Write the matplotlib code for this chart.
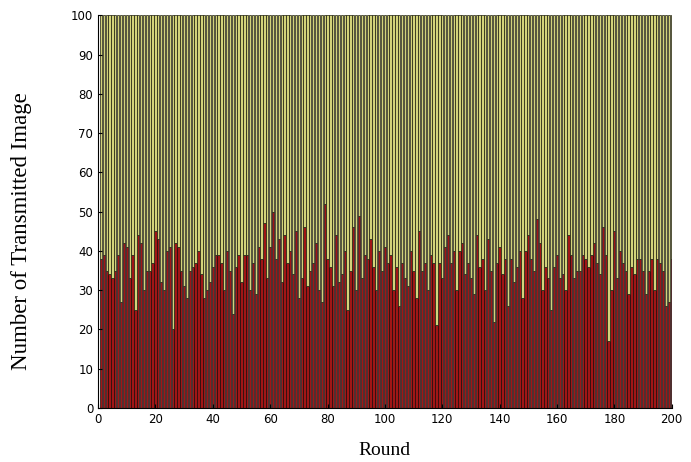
import numpy as np
import matplotlib.pyplot as plt

# red part of each stacked bar (the yellow part fills up to 100)
red = [38, 39, 35, 34, 33, 35, 39, 27, 42, 41, 33, 39, 25, 44, 42, 30, 35, 35, 37, 45,
       43, 32, 30, 40, 41, 20, 42, 41, 35, 31, 28, 35, 36, 37, 40, 34, 28, 30, 32, 36,
       39, 39, 37, 30, 40, 35, 24, 36, 39, 32, 39, 39, 30, 37, 29, 41, 38, 47, 33, 41,
       50, 38, 43, 32, 44, 37, 40, 34, 45, 28, 33, 46, 31, 35, 37, 42, 30, 27, 52, 38,
       36, 31, 44, 32, 34, 40, 25, 35, 46, 30, 49, 33, 39, 38, 43, 36, 30, 40, 35, 41,
       37, 39, 30, 36, 26, 37, 33, 31, 40, 35, 28, 45, 35, 37, 30, 39, 37, 21, 37, 33,
       41, 44, 37, 40, 30, 40, 42, 34, 37, 33, 29, 44, 36, 38, 30, 43, 35, 22, 37, 41,
       34, 38, 26, 38, 32, 36, 40, 28, 40, 44, 38, 35, 48, 42, 30, 36, 33, 25, 36, 39,
       33, 34, 30, 44, 39, 33, 35, 35, 39, 38, 36, 39, 42, 37, 34, 46, 39, 17, 30, 45,
       33, 40, 37, 35, 29, 36, 34, 38, 38, 35, 29, 35, 38, 30, 38, 37, 35, 26, 27, 38]
rounds = np.arange(1, len(red) + 1)
yellow = [100 - r for r in red]

fig = plt.figure(figsize=(6.91, 4.62), dpi=100)
ax = fig.add_axes([0.142, 0.117, 0.830, 0.850])

ax.bar(rounds, red, width=0.8, color='#a01616', edgecolor='#1a0a0a', linewidth=0.5)
ax.bar(rounds, yellow, bottom=red, width=0.8, color='#d2d27a', edgecolor='#1a1a0a', linewidth=0.5)

ax.set_xlim(0, 200)
ax.set_ylim(0, 100)
ax.set_xticks(np.arange(0, 201, 20))
ax.set_yticks(np.arange(0, 101, 10))
ax.tick_params(direction='in', labelsize=8.5, length=3)
for s in ['top', 'right']:
    ax.spines[s].set_visible(False)

ax.set_xlabel('Round', family='Liberation Serif', fontsize=14, labelpad=12)
ax.set_ylabel('Number of Transmitted Image', family='Liberation Serif', fontsize=16.5)
ax.yaxis.set_label_coords(-0.115, 0.45)

plt.savefig('out.png', dpi=100)
